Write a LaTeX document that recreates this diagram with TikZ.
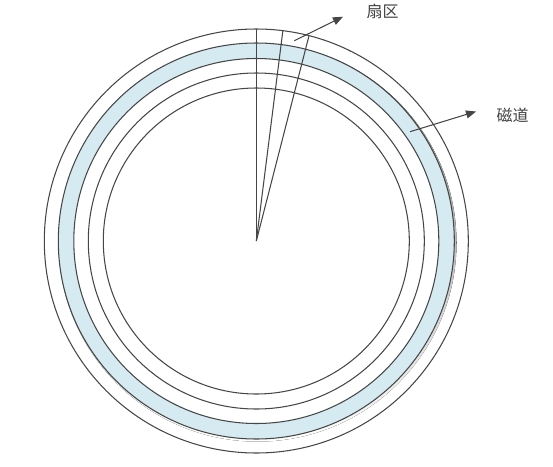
\documentclass[tikz,border=0pt]{standalone}
\usepackage{fontspec}
\newfontfamily\cjk{Noto Sans CJK SC}
\usetikzlibrary{arrows.meta,calc}
\definecolor{ln}{RGB}{70,70,70}
\definecolor{band}{RGB}{214,234,241}
\definecolor{shade}{RGB}{205,210,213}
\begin{document}
\begin{tikzpicture}[x=1pt,y=-1pt,
  ring/.style={draw=ln,line width=1.05pt},
  ptr/.style={draw=ln,line width=1.05pt,-{Triangle[length=10pt,width=8pt]}},
  lbl/.style={font=\cjk\fontsize{16}{16}\selectfont,text=black!75,inner sep=0pt}]
\useasboundingbox (0,0) rectangle (553,466);
\coordinate (O) at (256.3,241);
% faint shadow of the band
\fill[shade,even odd rule] ($(O)+(1.2,1.6)$) circle[radius=199pt] ($(O)+(1.2,1.6)$) circle[radius=186pt];
\fill[band,even odd rule] (O) circle[radius=198pt] (O) circle[radius=182.5pt];
\foreach \r in {212,198,182.5,168,153} \draw[ring] (O) circle[radius=\r pt];
% sector lines
\coordinate (a1) at ($(O)+(-90:212)$);
\coordinate (a2) at ($(O)+(-82.8:212)$);
\coordinate (a3) at ($(O)+(-75.6:212)$);
\draw[ring] (O) -- (a1);
\draw[ring] (O) -- (a2);
\draw[ring] (O) -- (a3);
% labels and pointers
\node[lbl] (sec) at (382.5,11.5) {扇区};
\coordinate (s1) at (294.3,40.7);
\coordinate (e1) at (343,16.7);
\draw[ptr] (s1) -- (e1);
\node[lbl] (trk) at (512.5,115) {磁道};
\coordinate (s2) at (410,131.7);
\coordinate (e2) at (476,111.5);
\draw[ptr] (s2) -- (e2);
\end{tikzpicture}
\end{document}
